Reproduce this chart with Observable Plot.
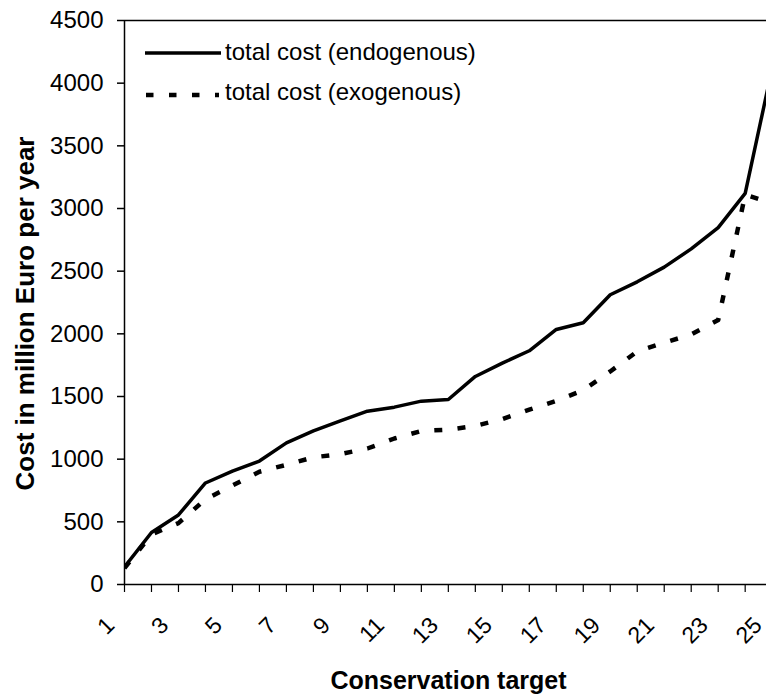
<!DOCTYPE html>
<html>
<head>
<meta charset="utf-8">
<script src="https://cdn.jsdelivr.net/npm/d3@7"></script>
<script src="https://cdn.jsdelivr.net/npm/@observablehq/plot@0.6"></script>
<style>
  html, body { margin: 0; padding: 0; background: #fff; }
  #wrap { position: relative; width: 766px; height: 700px; font-family: "Liberation Sans", Arial, sans-serif; }
  #legend { position: absolute; left: 0; top: 0; pointer-events: none; }
</style>
</head>
<body>
<div id="wrap"></div>
<script>
// ---- data ----
const targets = [1,2,3,4,5,6,7,8,9,10,11,12,13,14,15,16,17,18,19,20,21,22,23,24,25];
const endogenous = [140, 415, 555, 810, 905, 985, 1130, 1225, 1305, 1383, 1415, 1463, 1476, 1660, 1766, 1865, 2035, 2088, 2312, 2415, 2532, 2678, 2848, 3120, 4120];
const exogenous  = [130, 400, 490, 680, 790, 900, 955, 1015, 1040, 1085, 1165, 1225, 1235, 1265, 1320, 1395, 1465, 1550, 1700, 1860, 1930, 1995, 2110, 3110, 3040];
const xTickLabels = [1,3,5,7,9,11,13,15,17,19,21,23,25];
const yTicks = [0,500,1000,1500,2000,2500,3000,3500,4000,4500];
const seriesNames = ["total cost (endogenous)", "total cost (exogenous)"];
const xTitle = "Conservation target";
const yTitle = "Cost in million Euro per year";

const rows = targets.map((t, i) => ({t, endo: endogenous[i], exo: exogenous[i]}));
const font = "'Liberation Sans', Arial, sans-serif";

const chart = Plot.plot({
  width: 766,
  height: 700,
  marginLeft: 124,
  marginRight: 0,
  marginTop: 20,
  marginBottom: 116,
  style: {fontFamily: font, background: "#fff", color: "#000", overflow: "visible"},
  x: {type: "linear", domain: [1, 24.79]},
  y: {domain: [0, 4500]},
  marks: [
    Plot.axisY({ticks: yTicks, tickSize: 7, tickPadding: 14, fontSize: 24, tickFormat: d => String(d), label: null, strokeWidth: 1.5}),
    Plot.axisX({ticks: targets, tickSize: 8, tickFormat: () => "", label: null, strokeWidth: 1.2}),
    Plot.text(xTickLabels, {x: d => d, text: d => String(d), frameAnchor: "bottom", dx: -14, dy: 37, rotate: -45, textAnchor: "end", lineAnchor: "middle", fontSize: 23, fill: "#000"}),
    Plot.ruleY([0], {stroke: "#000", strokeWidth: 1.5}),
    Plot.ruleY([4500], {stroke: "#000", strokeWidth: 1.5}),
    Plot.ruleX([1], {stroke: "#000", strokeWidth: 1.5}),
    Plot.line(rows, {x: "t", y: "exo", stroke: "#000", strokeWidth: 4.5, strokeDasharray: "8,15.3", strokeLinecap: "butt", clip: true}),
    Plot.line(rows, {x: "t", y: "endo", stroke: "#000", strokeWidth: 3.5, strokeLinejoin: "miter", clip: true}),
    Plot.text([xTitle], {frameAnchor: "bottom", dx: 3, dy: 96, text: d => d, fontSize: 25, fontWeight: "bold", textAnchor: "middle", lineAnchor: "middle", fill: "#000"}),
    Plot.text([yTitle], {frameAnchor: "left", dx: -99, dy: 11, rotate: -90, text: d => d, fontSize: 26, fontWeight: "bold", textAnchor: "middle", lineAnchor: "middle", fill: "#000"})
  ]
});

const wrap = document.getElementById("wrap");
wrap.appendChild(chart);

// legend overlay (inside the plot area, top-left)
const ns = "http://www.w3.org/2000/svg";
const leg = document.createElementNS(ns, "svg");
leg.setAttribute("id", "legend");
leg.setAttribute("width", 766);
leg.setAttribute("height", 120);
const items = [
  {name: seriesNames[0], y: 53, textY: 60, dash: null, w: 3.5, x1: 145, x2: 221},
  {name: seriesNames[1], y: 95, textY: 100, dash: "7.5,15.5", w: 4.5, x1: 146, x2: 219}
];
items.forEach(it => {
  const ln = document.createElementNS(ns, "line");
  ln.setAttribute("x1", it.x1); ln.setAttribute("x2", it.x2);
  ln.setAttribute("y1", it.y); ln.setAttribute("y2", it.y);
  ln.setAttribute("stroke", "#000");
  ln.setAttribute("stroke-width", it.w);
  if (it.dash) ln.setAttribute("stroke-dasharray", it.dash);
  leg.appendChild(ln);
  const tx = document.createElementNS(ns, "text");
  tx.setAttribute("x", 225);
  tx.setAttribute("y", it.textY);
  tx.setAttribute("font-size", 24);
  tx.setAttribute("font-family", font);
  tx.setAttribute("fill", "#000");
  tx.textContent = it.name;
  leg.appendChild(tx);
});
wrap.appendChild(leg);
</script>
</body>
</html>
